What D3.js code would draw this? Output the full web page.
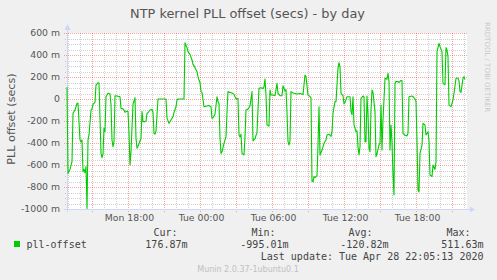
<!DOCTYPE html>
<html><head><meta charset="utf-8">
<script src="https://cdn.jsdelivr.net/npm/d3@7"></script>
<style>
html,body{margin:0;padding:0;background:#F0F0F0;}
svg{display:block;}
text{font-family:"DejaVu Sans",sans-serif;}
.mono{font-family:"DejaVu Sans Mono",monospace;}
</style></head>
<body>
<script>
// minutes relative to Tue 2020-04-28 00:00
const times = [-665,-660,-650,-640,-635,-625,-615,-610,-600,-595,-590,-585,-580,-575,-570,-565,-560,-555,-545,-540,-535,-525,-520,-510,-505,-495,-490,-485,-480,-475,-470,-460,-450,-445,-440,-435,-430,-425,-415,-400,-395,-385,-380,-375,-365,-360,-355,-350,-345,-335,-330,-325,-320,-315,-310,-300,-295,-290,-285,-275,-270,-265,-260,-250,-240,-235,-230,-225,-220,-210,-190,-170,-165,-155,-145,-135,-130,-120,-115,-110,-80,-75,-65,-60,-50,-40,-35,-25,-15,-10,-5,0,5,10,20,35,45,55,60,65,75,85,90,95,100,105,110,120,130,135,140,150,160,170,180,190,195,200,205,210,220,225,230,240,250,260,265,275,285,290,295,305,315,320,325,330,335,345,350,355,365,375,385,390,400,410,415,425,430,435,440,445,450,455,465,485,500,515,525,530,540,550,555,560,565,570,575,585,590,595,600,610,620,630,635,645,655,660,665,675,680,690,695,700,705,715,720,725,735,750,755,760,765,770,780,785,790,795,800,805,815,820,825,830,835,840,845,850,855,860,865,875,880,885,895,900,905,910,915,925,935,940,945,950,955,960,965,970,975,980,990,995,1005,1010,1015,1025,1035,1040,1045,1060,1065,1075,1080,1085,1090,1095,1100,1110,1115,1125,1130,1140,1145,1150,1160,1165,1175,1180,1185,1195,1200,1210,1215,1225,1230,1235,1240,1245,1255,1265,1270,1280,1290,1295,1300,1305,1315,1320,1325];
// pll-offset in milliseconds
const offsets = [106,-675,-640,-570,-130,-100,-39,-39,-373,-390,-373,-660,-640,-670,-615,-995.01,-373,-327,-100,-90,-48,-30,127,148,145,-494,-533,-500,-267,-297,21,52,48,-55,-373,-433,-390,30,27,21,-85,-90,-100,-121,-110,-115,-312,-600,-479,-45,-18,12,-358,-448,-430,-382,-360,-115,-206,-206,-200,-130,-125,-100,-95,-121,-312,-320,-291,0,0,0,-176,-221,-191,-160,-121,-70,-9,0,0,511.63,467,430,406,355,315,285,248,203,170,150,67,61,-70,-64,-60,-70,-176,-170,-139,21,-24,-40,-358,-494,-480,-403,-342,-121,67,60,55,42,0,5,-327,-345,-320,-494,-509,-340,-100,-90,-64,67,-382,-360,-303,-100,97,103,95,110,182,36,-236,-245,82,36,36,30,142,52,30,30,121,73,85,-121,-388,-418,-380,67,55,45,50,40,218,203,36,21,12,-748,-752,-706,-715,-697,-418,-70,-509,-464,-403,-370,-327,-320,-340,-297,-130,-24,-24,279,330,294,52,30,-45,-30,21,21,-115,-142,21,-236,-297,-290,-433,-509,-433,6,27,20,-388,-388,27,-142,-448,-479,-100,82,60,-115,-524,-500,-418,-400,-55,-464,-191,188,180,233,160,-464,-236,-388,-691,-873,142,158,158,150,170,165,-312,-330,-335,-312,21,27,21,0,-20,-388,-827,-845,-494,-420,-221,-236,-327,-297,-380,-691,-706,-600,-640,-570,430,506,476,430,142,130,467,445,385,-55,-70,-9,52,188,188,165,67,60,188,203,176.87];

const yTicks = [600,400,200,0,-200,-400,-600,-800,-1000];
const xTickLabels = ["Mon 18:00","Tue 00:00","Tue 06:00","Tue 12:00","Tue 18:00"];
const xTickTimes = [-360,0,360,720,1080];
const legendHeads = ["Cur:","Min:","Avg:","Max:"];
const legendValues = ["176.87m","-995.01m","-120.82m","511.63m"];
const seriesName = "pll-offset";
const title = "NTP kernel PLL offset (secs) - by day";
const lastUpdate = "Last update: Tue Apr 28 22:05:13 2020";

const W = 497, H = 280;
const svg = d3.select("body").append("svg").attr("width", W).attr("height", H);
svg.append("rect").attr("width", W).attr("height", H).attr("fill", "#F0F0F0");

const x = d3.scaleLinear().domain([-665, 1335]).range([67, 467]);
const y = d3.scaleLinear().domain([-1000, 600]).range([209, 33]);
const px = v => Math.round(v) + 0.5;

svg.append("rect").attr("x", 67).attr("y", 33).attr("width", 400).attr("height", 176).attr("fill", "#FFFFFF");

const grid = svg.append("g");
d3.range(-1000, 601, 50).filter(v => v % 200 !== 0).forEach(v => {
  grid.append("line").attr("x1", 65).attr("x2", 467).attr("y1", px(y(v))).attr("y2", px(y(v)))
    .attr("stroke", "rgba(140,140,140,0.4)").attr("stroke-dasharray", "1,1");
});
d3.range(-660, 1336, 60).filter(t => (t % 180) !== 0).forEach(t => {
  grid.append("line").attr("x1", px(x(t))).attr("x2", px(x(t))).attr("y1", 33).attr("y2", 211)
    .attr("stroke", "rgba(140,140,140,0.4)").attr("stroke-dasharray", "1,1");
});
yTicks.forEach(v => {
  grid.append("line").attr("x1", 64).attr("x2", 467).attr("y1", px(y(v))).attr("y2", px(y(v)))
    .attr("stroke", "rgba(255,0,0,0.35)").attr("stroke-dasharray", "1,1");
});
d3.range(-540, 1336, 180).forEach(t => {
  grid.append("line").attr("x1", px(x(t))).attr("x2", px(x(t))).attr("y1", 33).attr("y2", 212)
    .attr("stroke", "rgba(255,0,0,0.35)").attr("stroke-dasharray", "1,1");
});

const axisCol = "#CFD6F8";
svg.append("line").attr("x1", 67.5).attr("x2", 67.5).attr("y1", 212).attr("y2", 29).attr("stroke", axisCol);
svg.append("path").attr("d", "M64.5,30 L70.5,30 L67.5,24 Z").attr("fill", axisCol);
svg.append("line").attr("x1", 64).attr("x2", 471).attr("y1", 209.5).attr("y2", 209.5).attr("stroke", axisCol);
svg.append("path").attr("d", "M470,206.5 L470,212.5 L475,209.5 Z").attr("fill", axisCol);

yTicks.forEach(v => {
  svg.append("text").attr("x", 60).attr("y", y(v) + 3.4).attr("text-anchor", "end")
    .attr("font-size", 9.3).attr("fill", "#555").text(v === 0 ? "0" : v + " m");
});
xTickLabels.forEach((l, i) => {
  svg.append("text").attr("x", x(xTickTimes[i]) + 1.5).attr("y", 220.8).attr("text-anchor", "middle")
    .attr("font-size", 9.3).attr("fill", "#555").text(l);
});

svg.append("text").attr("x", 247.5).attr("y", 17.5).attr("text-anchor", "middle")
  .attr("font-size", 12.9).attr("fill", "#555").text(title);
svg.append("text").attr("transform", "translate(14.5,119) rotate(-90)").attr("text-anchor", "middle")
  .attr("font-size", 11.2).attr("fill", "#555").text("PLL offset (secs)");
svg.append("text").attr("transform", "translate(484.5,22) rotate(90)").attr("text-anchor", "start")
  .attr("font-size", 7).attr("fill", "#C8C8C8").text("RRDTOOL / TOBI OETIKER");

const line = d3.line().x((d, i) => x(times[i])).y(d => y(d));
svg.append("path").datum(offsets).attr("d", line).attr("fill", "none")
  .attr("stroke", "#00CC00").attr("stroke-width", 1.1).attr("stroke-linejoin", "round");

svg.append("rect").attr("x", 14).attr("y", 241).attr("width", 6).attr("height", 6).attr("fill", "#00CC00");
svg.append("text").attr("class", "mono").attr("x", 26.5).attr("y", 247.8).attr("font-size", 10)
  .attr("fill", "#444").text(seriesName);
const headEnds = [177.5, 275.5, 372.5, 470.5];
const valEnds = [187.5, 288.5, 388.5, 483.5];
legendHeads.forEach((h, i) => {
  svg.append("text").attr("class", "mono").attr("x", headEnds[i]).attr("y", 236.2).attr("text-anchor", "end")
    .attr("font-size", 10).attr("fill", "#444").text(h);
  svg.append("text").attr("class", "mono").attr("x", valEnds[i]).attr("y", 247.8).attr("text-anchor", "end")
    .attr("font-size", 10).attr("fill", "#444").text(legendValues[i]);
});
svg.append("text").attr("class", "mono").attr("x", 483.5).attr("y", 259.8).attr("text-anchor", "end")
  .attr("font-size", 10).attr("fill", "#444").text(lastUpdate);
svg.append("text").attr("x", 248).attr("y", 272).attr("text-anchor", "middle")
  .attr("font-size", 8).attr("fill", "#C0C0C0").text("Munin 2.0.37-1ubuntu0.1");
</script>
</body></html>
